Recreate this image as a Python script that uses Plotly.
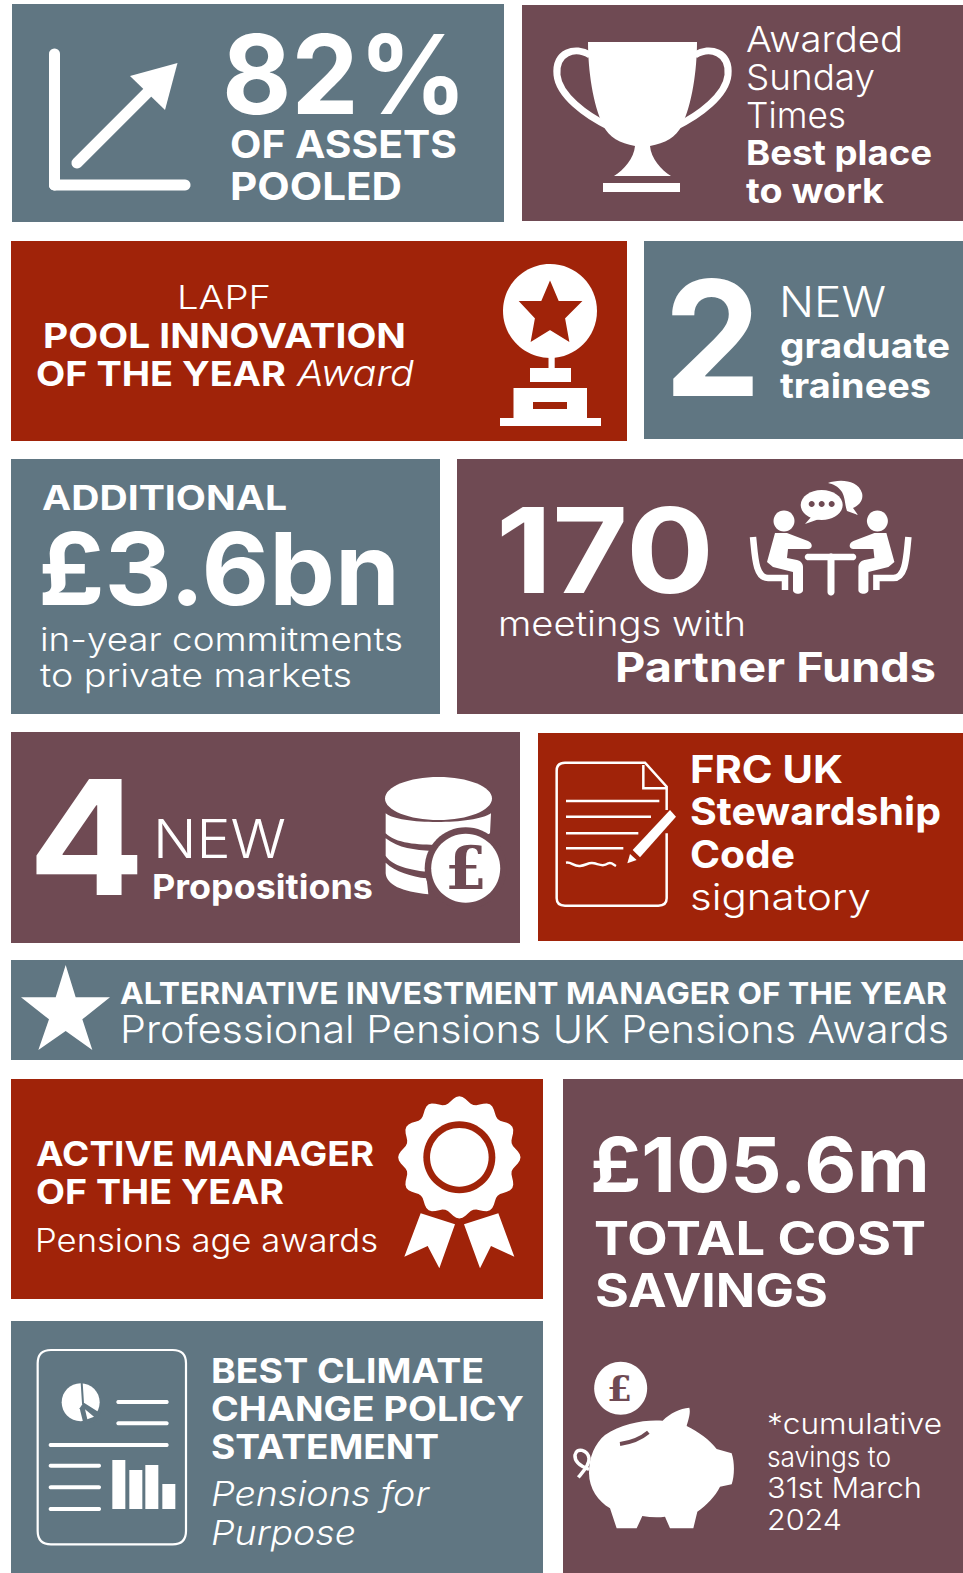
import re, math, json
import plotly.graph_objects as go

W, H = 963, 1573
BLUE, MAUVE, RED, WHITE = "#607682", "#6F4A53", "#A02309", "#FFFFFF"
SANS = "Inter"

# Tiles
tile_x0 = [12, 522, 11, 644, 11, 457, 11, 538, 11, 11, 11, 563]
tile_x1 = [504, 963, 627, 963, 440, 963, 520, 963, 963, 543, 543, 963]
tile_y0 = [4, 5, 241, 241, 459, 459, 732, 733, 960, 1079, 1321, 1079]
tile_y1 = [222, 221, 441, 439, 714, 714, 943, 941, 1060, 1299, 1573, 1573]
tile_colour = [BLUE, MAUVE, RED, BLUE, BLUE, MAUVE, MAUVE, RED, BLUE, RED, BLUE, MAUVE]

# Text lines
text_label = ["82%", "OF ASSETS", "POOLED",
              "Awarded", "Sunday", "Times", "Best place", "to work",
              "LAPF", "POOL INNOVATION", "OF THE YEAR", "Award",
              "2", "NEW", "graduate", "trainees",
              "ADDITIONAL", "£3.6bn", "in-year commitments", "to private markets",
              "170", "meetings with", "Partner Funds",
              "4", "NEW", "Propositions",
              "FRC UK", "Stewardship", "Code", "signatory",
              "ALTERNATIVE INVESTMENT MANAGER OF THE YEAR", "Professional Pensions UK Pensions Awards",
              "ACTIVE MANAGER", "OF THE YEAR", "Pensions age awards",
              "£105.6m", "TOTAL COST", "SAVINGS",
              "BEST CLIMATE", "CHANGE POLICY", "STATEMENT", "Pensions for", "Purpose",
              "*cumulative", "savings to", "31st March", "2024"]
text_x = [222, 230, 230, 746, 746, 746, 746, 746,
          177, 43, 36, 297,
          664, 779, 780, 780,
          42, 38, 40, 40,
          496, 498, 615,
          28, 153, 152,
          690, 690, 690, 690,
          120, 120,
          36, 36, 35,
          590, 594, 595,
          211, 211, 211, 211, 211,
          767, 767, 767, 767]
text_y = [74, 144, 186, 39, 77, 115, 152, 190,
          297, 335, 373, 373,
          338, 301, 345, 385,
          497, 568, 639, 675,
          550, 623, 667,
          837, 838, 886,
          769, 811, 854, 896,
          993, 1029,
          1153, 1191, 1240,
          1164, 1238, 1290,
          1370, 1408, 1446, 1493, 1532,
          1423, 1456, 1487, 1519]
text_width = [245, 227, 172, 157, 129, 100, 186, 138,
              94, 363, 250, 117,
              97, 107, 170, 151,
              245, 362, 363, 312,
              218, 248, 321,
              117, 133, 221,
              153, 251, 105, 181,
              827, 829,
              338, 248, 343,
              340, 332, 233,
              273, 313, 228, 218, 145,
              175, 124, 155, 75]
text_size = [110, 38, 38, 36, 36, 36, 34, 34,
             33, 34, 34, 36,
             160, 42, 34, 34,
             34, 100, 33, 33,
             118, 34, 41,
             160, 54, 34,
             38, 38, 38, 37,
             30, 38,
             34, 34, 32,
             76, 46, 46,
             34, 34, 34, 34, 34,
             29, 29, 29, 29]
text_weight = [700, 700, 700, 350, 350, 350, 700, 700,
               350, 700, 700, 350,
               700, 350, 700, 700,
               700, 700, 350, 350,
               700, 350, 700,
               700, 350, 700,
               700, 700, 700, 350,
               700, 350,
               700, 700, 350,
               700, 700, 700,
               700, 700, 700, 350, 350,
               350, 350, 350, 350]
text_italic = {"Award", "Pensions for", "Purpose"}

pound_x = [465.5, 619]
pound_y = [868, 1388]
pound_size = [60, 36]
pound_colour = [MAUVE, MAUVE]

shapes = []


def tx(path, ox=0.0, oy=0.0, s=1.0, sy=None):
    """Map a path given in a crop's pixel coordinates onto the page."""
    sy = s if sy is None else sy
    out, i = [], 0
    for tok in re.findall(r"[A-Za-z]|-?\d+\.?\d*", path):
        if tok.isalpha():
            out.append(tok)
        else:
            v = float(tok)
            out.append(f"{ox + v * s:.2f}" if i % 2 == 0 else f"{oy + v * sy:.2f}")
            i += 1
    return " ".join(out)


def fill(path, colour=WHITE, stroke=0):
    shapes.append(dict(type="path", path=path, fillcolor=colour, xref="x", yref="y", layer="above",
                       line=dict(width=stroke, color=colour)))


def stroke(path, width, colour=WHITE):
    shapes.append(dict(type="path", path=path, xref="x", yref="y", layer="above",
                       fillcolor="rgba(0,0,0,0)", line=dict(width=width, color=colour)))


def ellipse(cx, cy, rx, ry):
    k = 0.5523
    return (f"M {cx-rx:.2f} {cy:.2f} C {cx-rx:.2f} {cy-k*ry:.2f} {cx-k*rx:.2f} {cy-ry:.2f} {cx:.2f} {cy-ry:.2f} "
            f"C {cx+k*rx:.2f} {cy-ry:.2f} {cx+rx:.2f} {cy-k*ry:.2f} {cx+rx:.2f} {cy:.2f} "
            f"C {cx+rx:.2f} {cy+k*ry:.2f} {cx+k*rx:.2f} {cy+ry:.2f} {cx:.2f} {cy+ry:.2f} "
            f"C {cx-k*rx:.2f} {cy+ry:.2f} {cx-rx:.2f} {cy+k*ry:.2f} {cx-rx:.2f} {cy:.2f} Z")


def capsule(x0, y0, x1, y1, w, colour=WHITE):
    r = w / 2
    a = math.atan2(y1 - y0, x1 - x0)
    pts = []
    for t in range(0, 13):
        b = a + math.pi / 2 + math.pi * t / 12
        pts.append((x0 + r * math.cos(b), y0 + r * math.sin(b)))
    for t in range(0, 13):
        b = a - math.pi / 2 + math.pi * t / 12
        pts.append((x1 + r * math.cos(b), y1 + r * math.sin(b)))
    fill("M " + " L ".join(f"{x:.2f} {y:.2f}" for x, y in pts) + " Z", colour)


def rect(x0, y0, x1, y1, colour=WHITE):
    fill(f"M {x0} {y0} L {x1} {y0} L {x1} {y1} L {x0} {y1} Z", colour)


for a, b, c, d, col in zip(tile_x0, tile_y0, tile_x1, tile_y1, tile_colour):
    rect(a, b, c, d, col)

# ---- growth arrow
capsule(54.5, 54, 54.5, 185, 11)
capsule(54.5, 185, 185, 185, 11)
capsule(77, 163, 150, 90, 11)
fill("M 177.5 63 L 130 76 L 165 110 Z")

# ---- trophy
fill("M 588 42 L 697 42 C 697 70 692 105 682 125 C 676 138 665 143 650 146 "
     "C 651 158 661 170 671 176 L 614 176 C 624 170 634 158 635 146 C 620 143 609 138 603 125 C 593 105 588 70 588 42 Z")
rect(603, 183, 680, 192)
stroke("M 590 55 C 575 46 555 52 557 75 C 559 95 585 115 610 127", 7)
stroke("M 695 55 C 710 46 730 52 728 75 C 726 95 700 115 675 127", 7)

# ---- star on pedestal
fill(ellipse(550, 311, 47, 47))
fill("M 550 283 L 558 302 L 580 302 L 564 318 L 568 340 L 550 329 L 532 340 L 536 318 L 521 302 L 542 302 Z", RED, 2)
rect(548.5, 357, 554.7, 368)
rect(530, 368, 571, 382)
rect(513.5, 388, 587, 418)
rect(533, 402, 567, 409, RED)
rect(500, 418, 601, 426)

# ---- meeting
MX = 1661.4
for mirror in (False, True):
    f = (lambda x: MX - x) if mirror else (lambda x: x)
    fill(ellipse(f(784), 521, 10.5, 10.5))
    stroke(f"M {f(753)} 537 C {f(755)} 555 {f(755)} 578 {f(768)} 578 L {f(785)} 578 L {f(785)} 590", 6.5)
    fill(f"M {f(775)} 533 L {f(787)} 533 L {f(808)} 541 C {f(813)} 543 {f(813)} 549 {f(808)} 549 L {f(788)} 549 "
         f"L {f(787)} 558 L {f(797)} 560 C {f(801)} 561 {f(803)} 564 {f(803)} 567 L {f(803)} 590 "
         f"C {f(803)} 595 {f(793)} 595 {f(793)} 590 L {f(793)} 572 L {f(773)} 567 L {f(767)} 562 Z")
capsule(808, 557, 853, 557, 6.5)
capsule(831, 557, 831, 592, 7)
fill(ellipse(821.7, 505, 21, 15))
fill("M 812 516 L 805 524 L 822 518 Z")
for dx in (811.7, 821.7, 831.7):
    fill(ellipse(dx, 504, 3, 3), MAUVE)
fill("M 828 483 C 838 479 858 479 862 493 C 864 501 858 506 853 508 L 858 515 L 847 511 "
     "C 845 505 845 497 842 492 C 838 486 833 484 828 483 Z")

# ---- coins
CO = dict(ox=375, oy=765, s=1 / 3)
fill(ellipse(438.5, 798.5, 53.5, 21.5))
fill(tx("M 32 145 C 70 180 300 180 348 145 L 345 205 C 300 235 240 240 190 240 C 130 240 60 235 32 205 Z", **CO))
fill(tx("M 32 220 C 70 250 120 255 170 258 L 160 320 C 90 315 45 295 32 272 Z", **CO))
fill(tx("M 32 293 C 60 320 110 335 155 340 L 160 388 C 80 380 35 360 32 325 Z", **CO))
fill(ellipse(465.7, 868.3, 41, 41), MAUVE)
fill(ellipse(465.7, 868.3, 34.5, 34.5))

# ---- signed page
PG = dict(ox=440, oy=450, s=1 / 3)
stroke(tx("M 680 1080 L 680 1010 L 615 938 L 375 938 C 358 938 350 946 350 962 L 350 1345 C 350 1360 358 1367 375 1367 "
          "L 655 1367 C 672 1367 680 1360 680 1345 L 680 1150", **PG), 2.5)
stroke(tx("M 610 945 L 610 1015 L 680 1015", **PG), 2.5)
for y_, x_ in ((1053, 658), (1100, 633), (1150, 595), (1195, 550)):
    stroke(tx(f"M 378 {y_} L {x_} {y_}", **PG), 2.5)
stroke(tx("M 378 1238 C 395 1235 400 1250 420 1248 C 440 1246 445 1236 462 1240 C 480 1244 490 1250 505 1240 C 515 1236 520 1244 528 1248", **PG), 2.5)
fill(tx("M 690 1080 L 708 1100 L 600 1222 L 578 1200 Z", **PG))
fill(tx("M 570 1212 L 590 1230 L 562 1240 Z", **PG))

# ---- award star banner
fill(tx("M 167 30 L 197 127 L 300 127 L 217 193 L 247 285 L 167 228 L 85 285 L 117 193 L 33 127 L 137 127 Z",
        ox=10, oy=955, s=1 / 3))

# ---- rosette
RO = dict(ox=390, oy=1085, s=1 / 3)
fill(tx("M 92 385 L 195 418 L 148 550 L 113 483 L 43 515 Z", **RO))
fill(tx("M 222 418 L 325 385 L 373 515 L 303 483 L 270 550 Z", **RO))
pts = []
for t in range(0, 360, 3):
    th = math.radians(t)
    r_ = 173 + 10.5 * math.cos(12 * th)
    pts.append((390 + (208 + r_ * math.sin(th)) / 3, 1085 + (217 - r_ * math.cos(th)) / 3))
stroke("M " + " L ".join(f"{x:.2f} {y:.2f}" for x, y in pts[44:77]), 7, RED)
fill("M " + " L ".join(f"{x:.2f} {y:.2f}" for x, y in pts) + " Z", WHITE)
cx_, cy_ = 390 + 208 / 3, 1085 + 217 / 3
fill(ellipse(cx_, cy_, 36, 36), RED)
fill(ellipse(cx_, cy_, 29.3, 29.3))

# ---- report sheet
RE = dict(ox=25, oy=1340, s=1 / 3)
stroke(tx("M 78 30 L 443 30 C 470 30 483 43 483 70 L 483 573 C 483 600 470 613 443 613 L 78 613 "
          "C 51 613 38 600 38 573 L 38 70 C 38 43 51 30 78 30 Z", **RE), 2.2)
fill(ellipse(25 + 167 / 3, 1340 + 187 / 3, 19, 19))
stroke(tx("M 170 128 L 174 190 L 225 222", **RE), 2, BLUE)
fill(tx("M 174 190 L 225 222 L 210 245 L 175 250 L 164 205 Z", **RE), BLUE)
fill(tx("M 180 208 L 207 230 L 187 238 Z", **RE))
for x0_, x1_, y_ in ((280, 425, 186), (280, 425, 250), (77, 425, 315), (77, 222, 377), (77, 222, 442), (77, 222, 507)):
    capsule(25 + x0_ / 3, 1340 + y_ / 3, 25 + x1_ / 3, 1340 + y_ / 3, 4)
for x0_, x1_, y_ in ((262, 301, 360), (313, 352, 390), (361, 400, 375), (412, 451, 432)):
    rect(25 + x0_ / 3, 1340 + y_ / 3, 25 + x1_ / 3, 1340 + 507 / 3)

# ---- piggy bank
PI = dict(ox=565, oy=1350, s=1 / 3)
fill(ellipse(565 + 167 / 3, 1350 + 115 / 3, 26.5, 26.5))
fill(tx("M 293 212 C 315 190 345 175 373 173 C 378 190 368 215 365 228 C 400 245 435 270 455 297 L 500 310 "
        "C 510 340 508 380 500 403 L 465 410 C 450 440 425 465 397 485 L 385 535 L 315 535 L 300 500 "
        "C 280 503 255 502 232 498 L 215 535 L 155 535 L 135 475 C 100 455 72 415 72 370 C 72 320 90 280 120 255 "
        "C 170 220 240 208 293 212 Z", **PI))
stroke(tx("M 165 282 C 195 278 225 268 250 247", **PI), 4, MAUVE)
stroke(tx("M 40 382 C 50 370 75 345 72 325 C 68 300 35 290 30 315 C 28 335 50 350 72 358", **PI), 3.5)

annotations = []
for label, x, y, size, weight in zip(text_label, text_x, text_y, text_size, text_weight):
    annotations.append(dict(
        text=label, x=x, y=y, xref="x", yref="y", showarrow=False,
        xanchor="left", yanchor="middle",
        font=dict(family=SANS, size=size, color=WHITE, weight=weight,
                  style="italic" if label in text_italic else "normal"),
        borderpad=0, borderwidth=0))
for x, y, size, col in zip(pound_x, pound_y, pound_size, pound_colour):
    annotations.append(dict(text="£", x=x, y=y, xref="x", yref="y", showarrow=False,
                            xanchor="center", yanchor="middle",
                            font=dict(family="DejaVu Serif", size=size, color=col, weight=700)))

fig = go.Figure(go.Scatter(x=[0, W], y=[0, H], mode="markers", marker=dict(opacity=0), hoverinfo="skip", showlegend=False))
fig.update_layout(
    width=W, height=H, margin=dict(l=0, r=0, t=0, b=0),
    paper_bgcolor=WHITE, plot_bgcolor=WHITE, showlegend=False,
    xaxis=dict(range=[0, W], visible=False, fixedrange=True),
    yaxis=dict(range=[H, 0], visible=False, fixedrange=True),
    shapes=shapes, annotations=annotations,
)

# The original face is wider than any installed one: stretch each line to its measured length.
fit_text = """
document.body.style.margin = '0';
var widths = %s;
var nodes = document.querySelectorAll('.annotation-text');
nodes.forEach(function (el, i) {
  if (i >= widths.length) return;
  var box = el.getBBox();
  el.setAttribute('text-anchor', 'start');
  el.setAttribute('x', box.x);
  el.setAttribute('textLength', widths[i]);
  el.setAttribute('lengthAdjust', 'spacingAndGlyphs');
});
""" % json.dumps(text_width)
fig.write_html("out.html", config=dict(displayModeBar=False), post_script=fit_text)
